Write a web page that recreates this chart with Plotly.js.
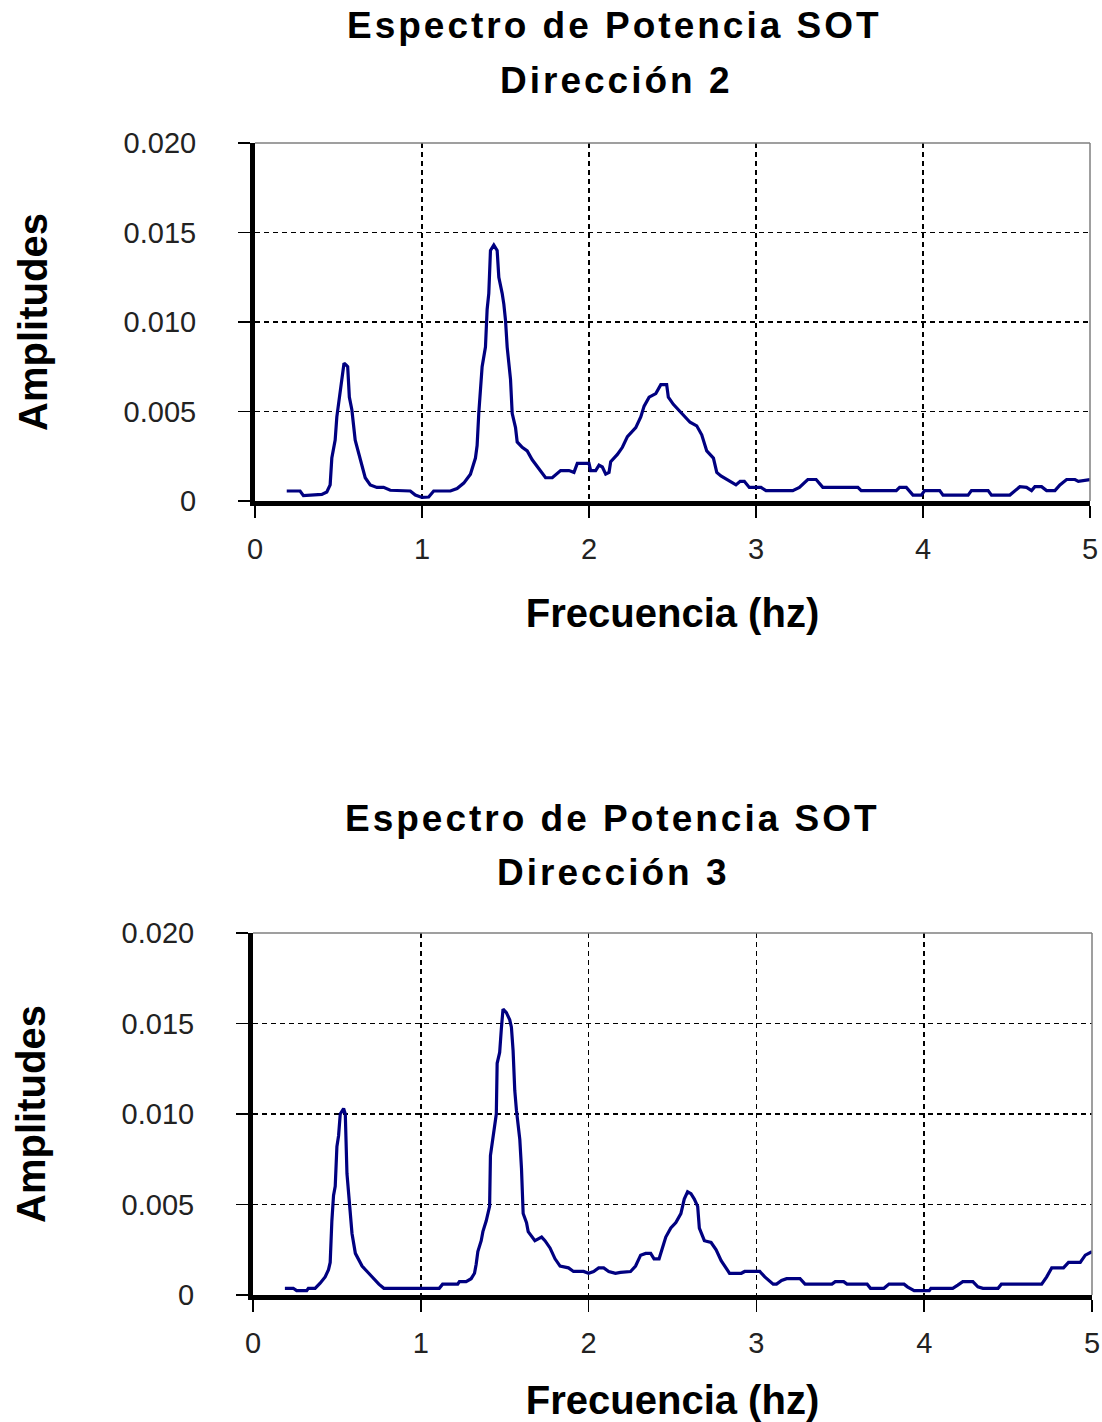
<!DOCTYPE html>
<html>
<head>
<meta charset="utf-8">
<script src="https://cdn.plot.ly/plotly-3.0.1.min.js"></script>
<style>
html, body { margin: 0; padding: 0; background: #fff; }
#chart { width: 1102px; height: 1422px; }
</style>
</head>
<body>
<div id="chart"></div>
<script>
// ---- Data ----
const titleMain = "Espectro de Potencia SOT";
const titleDir2 = "Dirección 2";
const titleDir3 = "Dirección 3";
const xTitle = "Frecuencia (hz)";
const yTitle = "Amplitudes";

const xTickVals = [0, 1, 2, 3, 4, 5];
const xTickText = ["0", "1", "2", "3", "4", "5"];
const yTickVals = [0, 0.005, 0.010, 0.015, 0.020];
const yTickText = ["0", "0.005", "0.010", "0.015", "0.020"];

// Dirección 2
const freq2 = [0.19,0.27,0.29,0.40,0.43,0.45,0.46,0.48,0.49,0.505,0.52,0.533,0.545,0.555,0.565,0.58,0.60,0.62,0.64,0.66,0.69,0.73,0.77,0.81,0.93,0.96,1.00,1.04,1.07,1.17,1.21,1.25,1.29,1.32,1.33,1.34,1.36,1.38,1.39,1.40,1.41,1.43,1.45,1.46,1.48,1.49,1.50,1.51,1.53,1.54,1.56,1.57,1.60,1.63,1.66,1.69,1.72,1.74,1.78,1.83,1.88,1.91,1.93,2.00,2.01,2.04,2.06,2.08,2.10,2.12,2.13,2.17,2.20,2.23,2.28,2.31,2.33,2.36,2.40,2.43,2.465,2.475,2.505,2.545,2.605,2.645,2.675,2.705,2.745,2.765,2.79,2.845,2.88,2.905,2.93,2.96,3.03,3.06,3.22,3.26,3.31,3.36,3.40,3.61,3.63,3.84,3.86,3.90,3.94,3.99,4.01,4.10,4.12,4.27,4.29,4.39,4.41,4.52,4.54,4.58,4.62,4.65,4.67,4.71,4.74,4.79,4.82,4.86,4.91,4.93,5.00];
const amp2 = [0.00056,0.00056,0.00030,0.00037,0.00050,0.00090,0.00240,0.00340,0.00470,0.00580,0.00680,0.00770,0.00760,0.00750,0.00580,0.00510,0.00340,0.00270,0.00210,0.00130,0.00090,0.00076,0.00076,0.00060,0.00056,0.00033,0.00020,0.00022,0.00056,0.00056,0.00070,0.00100,0.00150,0.00240,0.00310,0.00490,0.00750,0.00860,0.01070,0.01160,0.01400,0.01430,0.01400,0.01250,0.01160,0.01100,0.01010,0.00860,0.00680,0.00490,0.00410,0.00330,0.00300,0.00280,0.00230,0.00190,0.00150,0.00130,0.00130,0.00170,0.00170,0.00160,0.00210,0.00210,0.00170,0.00170,0.00200,0.00190,0.00150,0.00160,0.00220,0.00260,0.00300,0.00360,0.00410,0.00470,0.00530,0.00580,0.00600,0.00650,0.00650,0.00580,0.00540,0.00500,0.00440,0.00420,0.00370,0.00280,0.00240,0.00160,0.00140,0.00110,0.00090,0.00110,0.00110,0.00076,0.00076,0.00058,0.00058,0.00076,0.00120,0.00120,0.00076,0.00076,0.00058,0.00058,0.00076,0.00076,0.00033,0.00033,0.00058,0.00058,0.00033,0.00033,0.00058,0.00058,0.00033,0.00033,0.00050,0.00080,0.00076,0.00058,0.00080,0.00080,0.00058,0.00058,0.00090,0.00120,0.00120,0.00110,0.00120];

// Dirección 3
const freq3 = [0.19,0.24,0.26,0.32,0.33,0.37,0.40,0.43,0.45,0.46,0.47,0.48,0.49,0.50,0.51,0.52,0.54,0.55,0.56,0.57,0.58,0.59,0.61,0.63,0.65,0.68,0.72,0.75,0.78,1.11,1.13,1.22,1.23,1.27,1.30,1.32,1.33,1.34,1.36,1.37,1.39,1.41,1.415,1.43,1.45,1.455,1.47,1.48,1.49,1.51,1.53,1.54,1.55,1.56,1.57,1.59,1.60,1.61,1.63,1.64,1.68,1.70,1.72,1.74,1.77,1.80,1.83,1.88,1.91,1.97,2.00,2.03,2.06,2.09,2.12,2.16,2.19,2.25,2.28,2.31,2.34,2.37,2.39,2.42,2.44,2.46,2.49,2.52,2.55,2.57,2.59,2.61,2.63,2.65,2.66,2.68,2.69,2.73,2.76,2.79,2.82,2.84,2.91,2.93,3.02,3.05,3.10,3.12,3.15,3.18,3.26,3.29,3.45,3.47,3.52,3.54,3.66,3.68,3.76,3.79,3.88,3.90,3.94,4.03,4.04,4.17,4.20,4.23,4.29,4.32,4.35,4.44,4.46,4.70,4.73,4.76,4.83,4.86,4.93,4.96,5.00];
const amp3 = [0.00037,0.00037,0.00024,0.00024,0.00037,0.00037,0.00065,0.00100,0.00140,0.00180,0.00410,0.00550,0.00600,0.00820,0.00880,0.01000,0.01030,0.01000,0.00670,0.00560,0.00450,0.00340,0.00230,0.00190,0.00160,0.00130,0.00090,0.00060,0.00037,0.00037,0.00060,0.00060,0.00074,0.00074,0.00090,0.00120,0.00170,0.00240,0.00300,0.00350,0.00410,0.00490,0.00770,0.00870,0.01000,0.01280,0.01340,0.01470,0.01580,0.01560,0.01520,0.01480,0.01350,0.01130,0.01020,0.00860,0.00700,0.00450,0.00400,0.00350,0.00300,0.00310,0.00320,0.00300,0.00260,0.00200,0.00160,0.00150,0.00130,0.00130,0.00120,0.00130,0.00150,0.00150,0.00130,0.00120,0.00125,0.00130,0.00160,0.00220,0.00230,0.00230,0.00200,0.00200,0.00260,0.00320,0.00370,0.00400,0.00450,0.00530,0.00570,0.00560,0.00530,0.00490,0.00370,0.00330,0.00300,0.00290,0.00250,0.00190,0.00150,0.00120,0.00120,0.00130,0.00130,0.00100,0.00060,0.00060,0.00080,0.00090,0.00090,0.00060,0.00060,0.00074,0.00074,0.00060,0.00060,0.00037,0.00037,0.00060,0.00060,0.00045,0.00024,0.00024,0.00037,0.00037,0.00055,0.00074,0.00074,0.00045,0.00037,0.00037,0.00060,0.00060,0.00100,0.00150,0.00150,0.00180,0.00180,0.00220,0.00240];

// ---- Styling ----
const FONT = "Liberation Sans, Arial, sans-serif";
const W = 1102, H = 1422;
const lineColor = "#000080";

function xAxis(domain, anchor) {
  return {
    domain: domain, anchor: anchor, range: [0, 5], autorange: false,
    tickmode: "array", tickvals: xTickVals, ticktext: xTickText,
    ticks: "outside", ticklen: 12, tickwidth: 1.5, tickcolor: "#000",
    ticklabelstandoff: 6,
    tickfont: { family: FONT, size: 29, color: "#222" },
    showline: true, linewidth: 5, linecolor: "#000",
    showgrid: true, gridcolor: "#000", gridwidth: 1.6, griddash: "5px,4px",
    zeroline: false, automargin: false, fixedrange: true,
    title: { text: "<b>" + xTitle + "</b>", font: { family: FONT, size: 40, color: "#000" }, standoff: 37 }
  };
}
function yAxis(domain, anchor) {
  return {
    domain: domain, anchor: anchor, range: [0, 0.02], autorange: false,
    tickmode: "array", tickvals: yTickVals, ticktext: yTickText,
    ticks: "outside", ticklen: 12, tickwidth: 1.5, tickcolor: "#000",
    ticklabelstandoff: 36,
    tickfont: { family: FONT, size: 29, color: "#222" },
    showline: true, linewidth: 5, linecolor: "#000",
    showgrid: true, gridcolor: "#000", gridwidth: 1.6, griddash: "5px,4px",
    zeroline: false, automargin: false, fixedrange: true,
    title: { text: "<b>" + yTitle + "</b>", font: { family: FONT, size: 40, color: "#000" }, standoff: 65 }
  };
}

const traces = [
  { x: freq2, y: amp2, xaxis: "x", yaxis: "y", type: "scatter", mode: "lines",
    line: { color: lineColor, width: 3.2 }, hoverinfo: "skip", showlegend: false },
  { x: freq3, y: amp3, xaxis: "x2", yaxis: "y2", type: "scatter", mode: "lines",
    line: { color: lineColor, width: 3.2 }, hoverinfo: "skip", showlegend: false }
];

function px2x(p) { return p / W; }
function py2y(p) { return 1 - p / H; }

function titleAnn(text, cx, cy) {
  return {
    text: '<b><span style="letter-spacing:3px">' + text + '</span></b>',
    x: px2x(cx), y: py2y(cy), xref: "paper", yref: "paper",
    xanchor: "center", yanchor: "middle", showarrow: false,
    font: { family: FONT, size: 37, color: "#000" }
  };
}

function border(xr, yr) {
  return [
    { type: "line", xref: xr + " domain", yref: yr + " domain", x0: 0, x1: 1, y0: 1, y1: 1,
      line: { color: "#7f7f7f", width: 1.5 }, layer: "above" },
    { type: "line", xref: xr + " domain", yref: yr + " domain", x0: 1, x1: 1, y0: 0, y1: 1,
      line: { color: "#7f7f7f", width: 1.5 }, layer: "above" }
  ];
}

const layout = {
  width: W, height: H,
  margin: { l: 0, r: 0, t: 0, b: 0, pad: 0 },
  paper_bgcolor: "#fff", plot_bgcolor: "#fff",
  showlegend: false,
  font: { family: FONT, color: "#000" },
  xaxis: xAxis([px2x(255), px2x(1090)], "y"),
  yaxis: yAxis([py2y(501), py2y(143)], "x"),
  xaxis2: xAxis([px2x(253), px2x(1092)], "y2"),
  yaxis2: yAxis([py2y(1295), py2y(933)], "x2"),
  annotations: [
    titleAnn(titleMain, 614, 26),
    titleAnn(titleDir2, 616, 80.5),
    titleAnn(titleMain, 612, 818),
    titleAnn(titleDir3, 613, 872)
  ],
  shapes: border("x", "y").concat(border("x2", "y2"))
};

Plotly.newPlot("chart", traces, layout, { staticPlot: true, displayModeBar: false });
</script>
</body>
</html>
